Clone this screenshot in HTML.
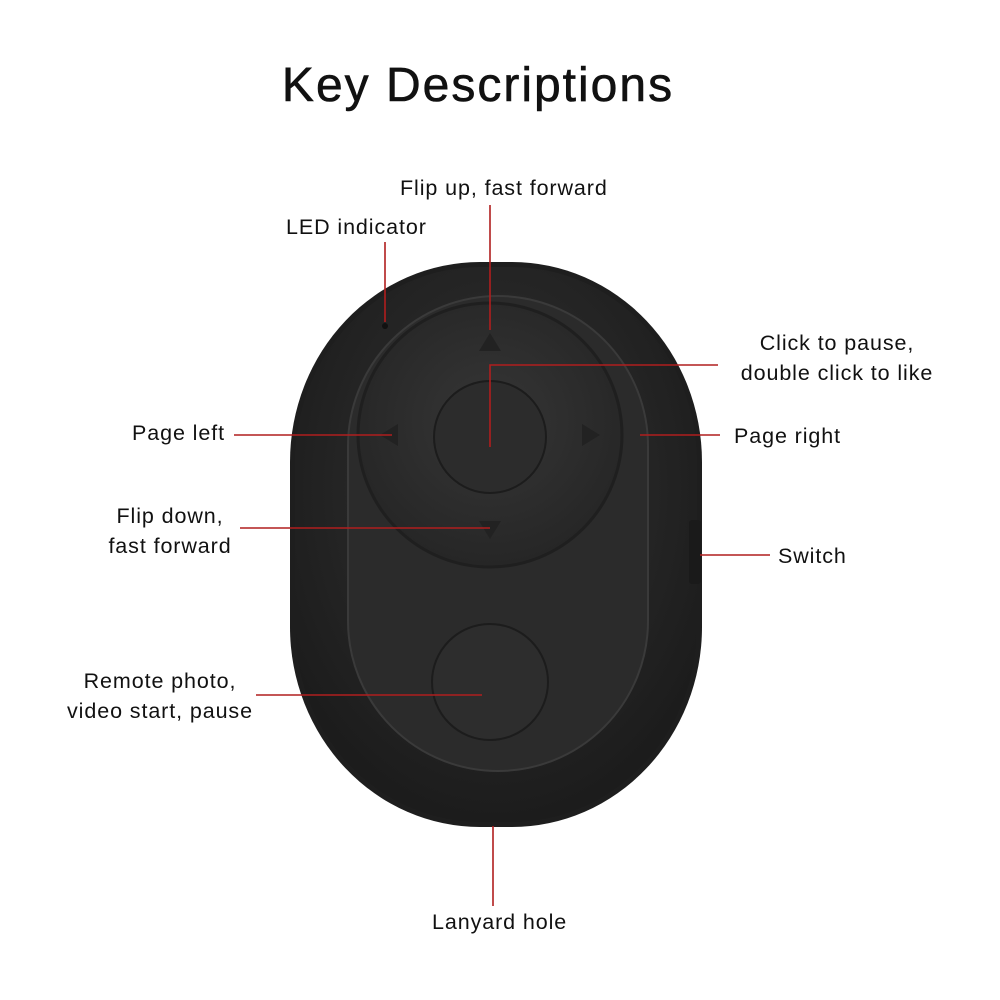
<!DOCTYPE html>
<html><head><meta charset="utf-8"><style>
html,body{margin:0;padding:0;background:#fff;}
body{width:1000px;height:1000px;position:relative;overflow:hidden;font-family:"Liberation Sans",sans-serif;color:#111;}
.t{position:absolute;font-size:21.5px;line-height:30px;white-space:nowrap;letter-spacing:0.9px;}
</style></head><body>
<div class="t" style="left:0;width:956px;text-align:center;top:56px;font-size:48px;line-height:60px;letter-spacing:2px;font-weight:500;-webkit-text-stroke:0.6px #111;">Key Descriptions</div>
<svg width="1000" height="1000" style="position:absolute;left:0;top:0">
<defs>
<radialGradient id="b" cx="50%" cy="40%" r="60%"><stop offset="0" stop-color="#333"/><stop offset="1" stop-color="#1c1c1c"/></radialGradient>
<radialGradient id="d" cx="50%" cy="45%" r="55%"><stop offset="0" stop-color="#363636"/><stop offset="1" stop-color="#262626"/></radialGradient>
</defs>
<rect x="290" y="262" width="412" height="565" rx="190" ry="200" fill="#1e1e1e"/>
<rect x="295" y="267" width="402" height="555" rx="185" ry="195" fill="url(#b)"/>
<rect x="348" y="296" width="300" height="475" rx="150" ry="150" fill="#2b2b2b" stroke="#3a3a3a" stroke-width="2"/>
<circle cx="490" cy="435" r="132" fill="url(#d)" stroke="#1f1f1f" stroke-width="3"/>
<circle cx="490" cy="437" r="56" fill="#2c2c2c" stroke="#1c1c1c" stroke-width="2"/>
<circle cx="490" cy="682" r="58" fill="#2d2d2d" stroke="#1c1c1c" stroke-width="2"/>
<polygon points="490,333 479,351 501,351" fill="#222"/>
<polygon points="380,435 398,424 398,446" fill="#222"/>
<polygon points="600,435 582,424 582,446" fill="#222"/>
<polygon points="490,539 479,521 501,521" fill="#222"/>
<rect x="689" y="520" width="12" height="64" rx="3" fill="#1a1a1a"/>
<circle cx="385" cy="326" r="3" fill="#111"/>
<g stroke="#b01e1e" stroke-width="1.6" fill="none">
<line x1="490" y1="205" x2="490" y2="330"/>
<line x1="385" y1="242" x2="385" y2="322"/>
<polyline points="718,365 490,365 490,447"/>
<line x1="234" y1="435" x2="392" y2="435"/>
<line x1="640" y1="435" x2="720" y2="435"/>
<line x1="240" y1="528" x2="490" y2="528"/>
<line x1="700" y1="555" x2="770" y2="555"/>
<line x1="256" y1="695" x2="482" y2="695"/>
<line x1="493" y1="826" x2="493" y2="906"/>
</g>
</svg>
<div class="t" style="left:400px;top:173px;">Flip up, fast forward</div>
<div class="t" style="left:286px;top:212px;">LED indicator</div>
<div class="t" style="left:722px;top:328px;width:230px;text-align:center;">Click to pause,<br>double click to like</div>
<div class="t" style="left:132px;top:418px;">Page left</div>
<div class="t" style="left:734px;top:421px;">Page right</div>
<div class="t" style="left:95px;top:501px;width:150px;text-align:center;">Flip down,<br>fast forward</div>
<div class="t" style="left:778px;top:541px;">Switch</div>
<div class="t" style="left:50px;top:666px;width:220px;text-align:center;">Remote photo,<br>video start, pause</div>
<div class="t" style="left:432px;top:907px;">Lanyard hole</div>
</body></html>
